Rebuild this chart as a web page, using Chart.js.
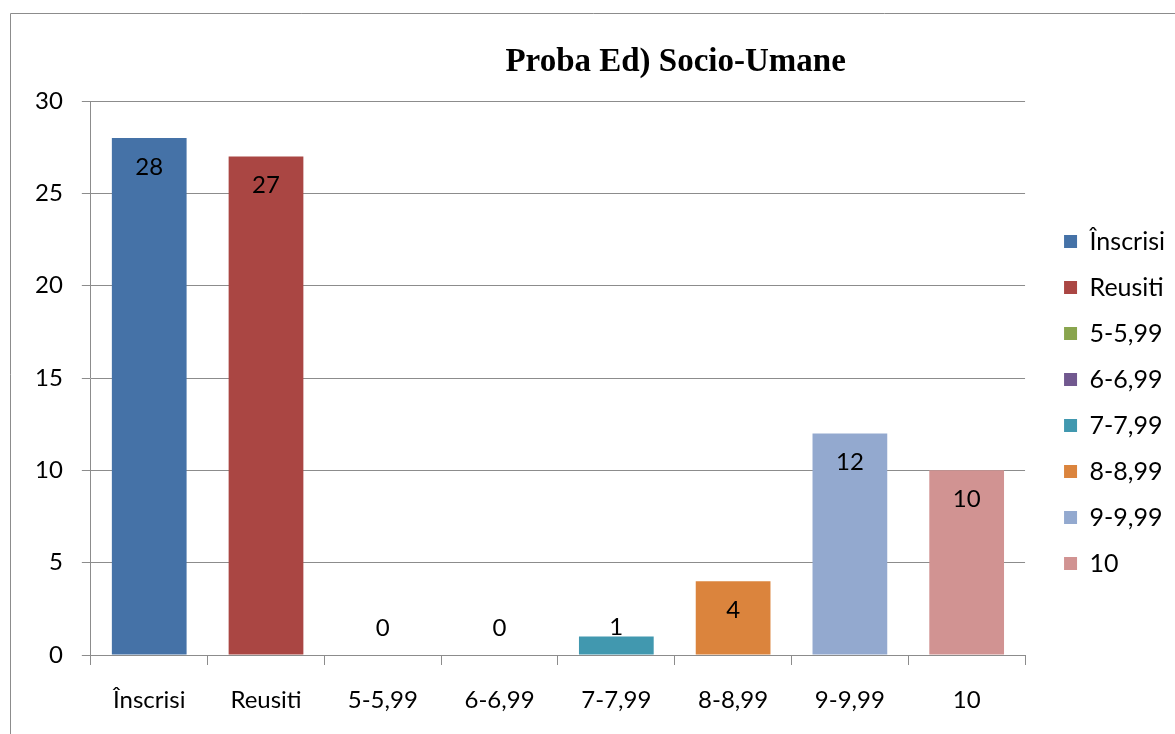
<!DOCTYPE html>
<html>
<head>
<meta charset="utf-8">
<script src="https://cdn.jsdelivr.net/npm/chart.js@4.4.1/dist/chart.umd.min.js"></script>
<style>
  html, body { margin: 0; padding: 0; background: #fff; }
  #wrap { width: 1175px; height: 734px; position: relative; }
</style>
</head>
<body>
<div id="wrap"><canvas id="probaChart"></canvas></div>
<script>
const chartTitle = "Proba Ed) Socio-Umane";
const categories = ["Înscrisi", "Reusiti", "5-5,99", "6-6,99", "7-7,99", "8-8,99", "9-9,99", "10"];
const values = [28, 27, 0, 0, 1, 4, 12, 10];
const barColors = ["#4572A7", "#AA4643", "#89A54E", "#71588F", "#4198AF", "#DB843D", "#93A9CF", "#D19392"];
const yTicks = [0, 5, 10, 15, 20, 25, 30];

const labelFont = "Lato, 'Open Sans', sans-serif";

// frame + title, drawn like the old office chart
const framePlugin = {
  id: "frame",
  afterLayout(chart) {
    // legend sits a bit higher than centred in the original
    if (chart.legend) {
      chart.legend.top -= 15;
      chart.legend.bottom -= 15;
    }
  },
  beforeDraw(chart) {
    const c = chart.ctx;
    c.save();
    c.strokeStyle = "#8c8c8c";
    c.lineWidth = 1;
    c.beginPath();
    c.moveTo(10.5, chart.height + 5);
    c.lineTo(10.5, 13.5);
    c.lineTo(chart.width + 5, 13.5);
    c.stroke();
    c.fillStyle = "#000";
    c.font = "bold 33px 'Liberation Serif', 'Times New Roman', serif";
    c.textAlign = "center";
    c.textBaseline = "middle";
    c.fillText(chartTitle, chart.width * 0.575, 62);
    c.restore();
  }
};

// value labels inside the bar top (or just above the axis for tiny bars)
const valueLabels = {
  id: "valueLabels",
  afterDatasetsDraw(chart) {
    const c = chart.ctx;
    const meta = chart.getDatasetMeta(0);
    c.save();
    c.fillStyle = "#000";
    c.font = "24px " + labelFont;
    c.textAlign = "center";
    c.textBaseline = "middle";
    meta.data.forEach(function (bar, i) {
      const y = Math.min(bar.y + 29, bar.base - 27);
      c.fillText(String(values[i]), bar.x, y);
    });
    c.restore();
  }
};

document.addEventListener("DOMContentLoaded", function () {
  const ctx = document.getElementById("probaChart").getContext("2d");

  new Chart(ctx, {
    type: "bar",
    data: {
      labels: categories,
      datasets: [
        {
          label: chartTitle,
          data: values,
          backgroundColor: barColors,
          borderWidth: 0,
          barPercentage: 0.64,
          categoryPercentage: 1.0,
        },
      ],
    },
    options: {
      responsive: true,
      maintainAspectRatio: false,
      animation: false,
      layout: {
        padding: { top: 101, left: 16, right: 0, bottom: 0 },
      },
      scales: {
        x: {
          grid: {
            display: true,
            drawOnChartArea: false,
            offset: true,
            tickLength: 10,
            color: "#8c8c8c",
          },
          border: { display: true, color: "#8c8c8c" },
          ticks: {
            color: "#000",
            font: { family: labelFont, size: 24 },
            padding: 21,
          },
          afterFit(axis) {
            axis.height = 79;
          },
        },
        y: {
          min: 0,
          max: 30,
          afterBuildTicks(axis) {
            axis.ticks = yTicks.map((v) => ({ value: v }));
          },
          grid: {
            color: "#8c8c8c",
            tickLength: 9,
          },
          border: { display: true, color: "#8c8c8c" },
          ticks: {
            color: "#000",
            font: { family: labelFont, size: 24 },
            padding: 19,
          },
        },
        // empty spacer between plot and legend
        gap: {
          type: "linear",
          position: "right",
          display: true,
          grid: { display: false },
          border: { display: false },
          ticks: { display: false },
          afterFit(axis) {
            axis.width = 18;
          },
        },
      },
      plugins: {
        title: { display: false },
        tooltip: { enabled: false },
        legend: {
          display: true,
          position: "right",
          onClick: null,
          labels: {
            boxWidth: 13,
            boxHeight: 13,
            padding: 21,
            color: "#000",
            font: { family: labelFont, size: 25 },
            generateLabels(chart) {
              return categories.map((name, i) => ({
                text: name,
                fillStyle: barColors[i],
                strokeStyle: barColors[i],
                lineWidth: 0,
                hidden: false,
                index: i,
              }));
            },
          },
        },
      },
    },
    plugins: [framePlugin, valueLabels],
  });
});
</script>
</body>
</html>
